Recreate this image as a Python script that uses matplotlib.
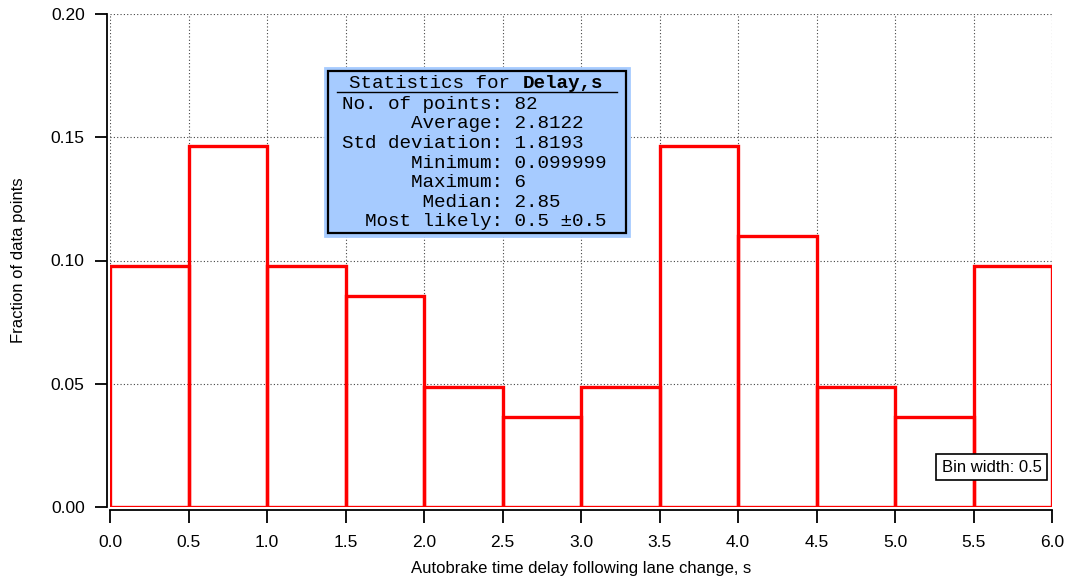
import matplotlib.pyplot as plt
import numpy as np

# histogram of autobrake delay, bin width 0.5 s
bin_edges = [0.0, 0.5, 1.0, 1.5, 2.0, 2.5, 3.0, 3.5, 4.0, 4.5, 5.0, 5.5]
fractions = [0.0976, 0.1463, 0.0976, 0.0854, 0.0488, 0.0366,
             0.0488, 0.1463, 0.1098, 0.0488, 0.0366, 0.0976]
bin_width = 0.5

stat_names = ["No. of points:", "Average:", "Std deviation:", "Minimum:",
              "Maximum:", "Median:", "Most likely:"]
stat_values = ["82", "2.8122", "1.8193", "0.099999", "6", "2.85", "0.5 \u00b10.5"]

plt.rcParams['font.family'] = ['Liberation Sans', 'DejaVu Sans']

fig = plt.figure(figsize=(10.69, 5.82), dpi=100)
ax = fig.add_axes([110 / 1069, 75 / 582, 942 / 1069, 493 / 582])

ax.bar(bin_edges, fractions, width=bin_width, align='edge', fill=False,
       edgecolor='#ff0000', linewidth=2.4, zorder=3)

ax.set_xlim(0, 6)
ax.set_ylim(0, 0.2)
ax.set_xticks(np.arange(0, 6.01, 0.5))
ax.set_yticks(np.arange(0, 0.201, 0.05))
ax.xaxis.set_major_formatter(plt.FormatStrFormatter('%.1f'))
ax.yaxis.set_major_formatter(plt.FormatStrFormatter('%.2f'))
ax.grid(True, linestyle=(0, (1, 2)), color='#444444', linewidth=0.8)
ax.set_axisbelow(True)

for s in ['top', 'right']:
    ax.spines[s].set_visible(False)
ax.spines['left'].set_position(('outward', 2.2))
ax.spines['bottom'].set_position(('outward', 2))
ax.spines['left'].set_linewidth(1.3)
ax.spines['bottom'].set_linewidth(1.3)
ax.tick_params(direction='out', length=9, width=1.3, labelsize=12.5)
ax.tick_params(axis='x', pad=9.5)
ax.tick_params(axis='y', pad=7)

ax.set_xlabel("Autobrake time delay following lane change, s", fontsize=12,
              labelpad=7.5)
ax.set_ylabel("Fraction of data points", fontsize=12, labelpad=17.5)

# statistics box
bx0, bx1 = 325 / 1069, 629 / 1069
by0, by1 = 1 - 236 / 582, 1 - 68 / 582
fig.patches.append(plt.Rectangle((bx0, by0), bx1 - bx0, by1 - by0,
                                 transform=fig.transFigure, facecolor='#a6cbff',
                                 edgecolor='#a6cbff', linewidth=2, zorder=5))
fig.patches.append(plt.Rectangle((bx0 + 3 / 1069, by0 + 3 / 582),
                                 bx1 - bx0 - 6 / 1069, by1 - by0 - 6 / 582,
                                 transform=fig.transFigure, facecolor='none',
                                 edgecolor='black', linewidth=1.6, zorder=6))
mono = 'Liberation Mono'
fs_mono = 13.9
fig.text(349 / 1069, 1 - 88.5 / 582, "Statistics for", family=mono,
         fontsize=fs_mono, va='baseline', ha='left', zorder=7)
fig.text(349 / 1069 + 15 * 11.6 / 1069, 1 - 88.5 / 582, "Delay,s", family=mono,
         fontsize=fs_mono, weight='bold', va='baseline', ha='left', zorder=7)
fig.lines.append(plt.Line2D([337 / 1069, 617 / 1069], [1 - 92 / 582, 1 - 92 / 582],
                            transform=fig.transFigure, color='black',
                            linewidth=1, zorder=7))
for i, (name, val) in enumerate(zip(stat_names, stat_values)):
    y = 1 - (109 + i * 19.5) / 582
    fig.text(342 / 1069, y, name.rjust(14) + " " + val, family=mono,
             fontsize=fs_mono, va='baseline', ha='left', zorder=7)

ax.text(0.9358, 0.0811, "Bin width: 0.5", transform=ax.transAxes, ha='center',
        va='center', fontsize=12, zorder=7,
        bbox=dict(boxstyle='square,pad=0.35', facecolor='white',
                  edgecolor='black', linewidth=1.2))

fig.savefig("out.png", dpi=100)
